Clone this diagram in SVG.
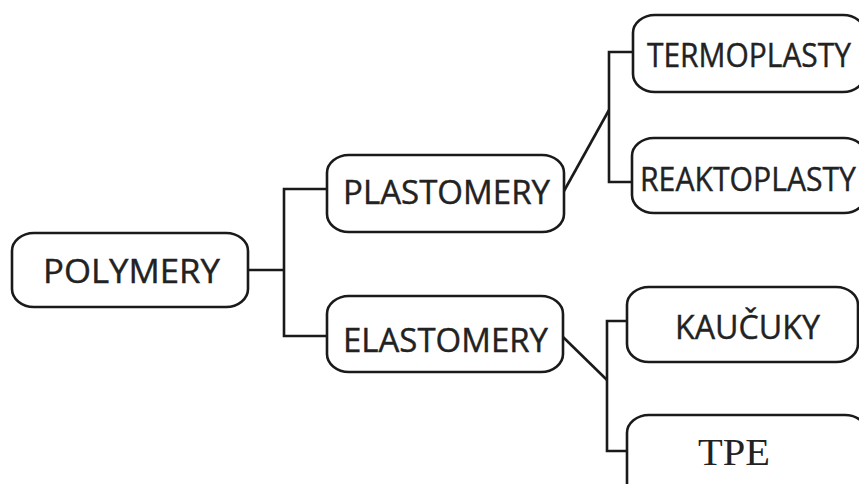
<svg xmlns="http://www.w3.org/2000/svg" width="859" height="484" viewBox="0 0 859 484">
<style>
.box{fill:#fff;stroke:#1a1a1a;stroke-width:2.6}
.lbl{font-family:"Open Sans","Noto Sans",sans-serif;font-size:33px;fill:#222;stroke:#222;stroke-width:0.4}
.ser{font-family:"Liberation Serif",serif;font-size:38px;fill:#222}
.con{fill:none;stroke:#1a1a1a;stroke-width:2.6}
</style>
<rect width="859" height="484" fill="#fff"/>
<g id="connectors" class="con">
<polyline points="248,270 284,270"/>
<polyline points="327,189 284,189 284,336 327,336"/>
<polyline points="564,191 609,110"/>
<polyline points="633,52 609,52 609,182 632,182"/>
<polyline points="563,337 607,380"/>
<polyline points="627,321 607,321 607,451 627,451"/>
</g>
<g id="polymery"><rect class="box" x="12" y="233" width="236" height="74" rx="22" ry="18"/><text class="lbl" x="43" y="283" textLength="177" lengthAdjust="spacingAndGlyphs">POLYMERY</text></g>
<g id="plastomery"><rect class="box" x="327" y="155" width="237" height="77" rx="22" ry="18"/><text class="lbl" x="343" y="204" textLength="207" lengthAdjust="spacingAndGlyphs">PLASTOMERY</text></g>
<g id="elastomery"><rect class="box" x="327" y="296" width="236" height="76" rx="22" ry="18"/><text class="lbl" x="343" y="352" textLength="205" lengthAdjust="spacingAndGlyphs">ELASTOMERY</text></g>
<g id="termoplasty"><rect class="box" x="633" y="15" width="232" height="77" rx="22" ry="18"/><text class="lbl" x="647" y="67" textLength="204" lengthAdjust="spacingAndGlyphs">TERMOPLASTY</text></g>
<g id="reaktoplasty"><rect class="box" x="632" y="138" width="234" height="75" rx="22" ry="18"/><text class="lbl" x="640" y="191" textLength="216" lengthAdjust="spacingAndGlyphs">REAKTOPLASTY</text></g>
<g id="kaucuky"><rect class="box" x="627" y="287" width="231" height="75" rx="22" ry="18"/><text class="lbl" x="675" y="339" textLength="145" lengthAdjust="spacingAndGlyphs">KAUČUKY</text></g>
<g id="tpe"><rect class="box" x="627" y="415" width="240" height="90" rx="22" ry="18"/><text class="ser" x="698" y="465" textLength="72" lengthAdjust="spacingAndGlyphs">TPE</text></g>
</svg>
